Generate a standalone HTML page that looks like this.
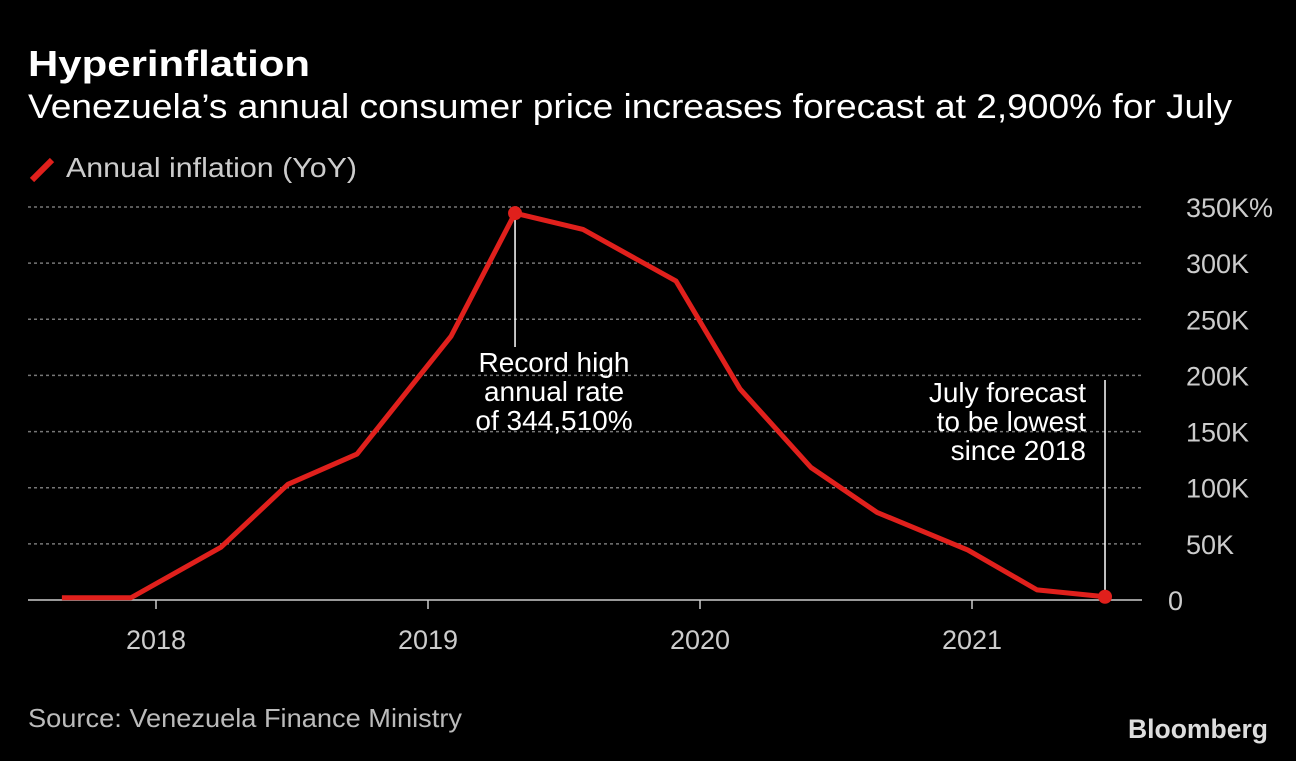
<!DOCTYPE html>
<html><head><meta charset="utf-8"><style>
body{margin:0;background:#000;width:1296px;height:756px;overflow:hidden;font-family:"Liberation Sans",sans-serif;color:#fff}
svg text{font-family:"Liberation Sans",sans-serif}
</style></head><body>
<svg width="1296" height="756">
<text x="28" y="76" font-size="36" font-weight="bold" fill="#fff" textLength="282" lengthAdjust="spacingAndGlyphs">Hyperinflation</text>
<text x="28" y="118" font-size="34" fill="#fff" textLength="1204" lengthAdjust="spacingAndGlyphs">Venezuela’s annual consumer price increases forecast at 2,900% for July</text>
<line x1="32" y1="180" x2="52" y2="160" stroke="#e0201c" stroke-width="6"/>
<text x="66" y="177" font-size="28" fill="#ccc" textLength="291" lengthAdjust="spacingAndGlyphs">Annual inflation (YoY)</text>
<g id="grid"></g><g id="xaxis"></g><g id="plot"></g>
<text x="28" y="727" font-size="26" fill="#bbb" textLength="434" lengthAdjust="spacingAndGlyphs">Source: Venezuela Finance Ministry</text>
<text x="1268" y="738" font-size="27" font-weight="bold" fill="#ddd" text-anchor="end" textLength="140" lengthAdjust="spacingAndGlyphs">Bloomberg</text>
</svg>
<script>
const dates=[2017.654,2017.908,2018.239,2018.485,2018.739,2019.085,2019.32,2019.57,2019.912,2020.147,2020.408,2020.651,2020.985,2021.239,2021.489];
const values=[2,2,47,103,130,235,344.51,330,284,188,118,78,44.5,9,2.9];
const yTicks=[0,50,100,150,200,250,300,350];
const yLabels=["0","50K","100K","150K","200K","250K","300K","350K%"];
const xTicks=[2018,2019,2020,2021];
const NS="http://www.w3.org/2000/svg";
const X=d=>156+(d-2018)*272;
const Y=v=>600-v*(393/350);
function mk(t,a,p){const e=document.createElementNS(NS,t);for(const k in a)e.setAttribute(k,a[k]);p.appendChild(e);return e;}
const grid=document.getElementById('grid'),xa=document.getElementById('xaxis'),plot=document.getElementById('plot');
yTicks.forEach((v,i)=>{
 if(v>0){const l=mk('line',{x1:28,x2:1142,y1:Y(v),y2:Y(v),stroke:'#777','stroke-width':1.5,'stroke-dasharray':'3,3'},grid);
 
 }
 const t=mk('text',{x:v===0?1168:1186,y:Y(v)+10,'font-size':27,fill:'#ccc'},grid);t.textContent=yLabels[i];
 
 
});
const base=mk('line',{x1:28,x2:1142,y1:600,y2:600,stroke:'#ccc','stroke-width':1.5},xa);


xTicks.forEach(y=>{
 mk('line',{x1:X(y),x2:X(y),y1:600,y2:609,stroke:'#ccc','stroke-width':1.5},xa);
 const t=mk('text',{x:X(y),y:649,'font-size':27,fill:'#ccc','text-anchor':'middle'},xa);t.textContent=y;
 
 
});
const pk=6;
const a1=mk('line',{x1:X(dates[pk]),x2:X(dates[pk]),y1:Y(values[pk]),y2:347,stroke:'#fff','stroke-width':1.5},plot);


["Record high","annual rate","of 344,510%"].forEach((s,i)=>{const t=mk('text',{x:554,y:372+i*29,'font-size':28,fill:'#fff','text-anchor':'middle'},plot);t.textContent=s;
 
 });
const L=dates.length-1;
const a2=mk('line',{x1:X(dates[L]),x2:X(dates[L]),y1:Y(values[L]),y2:380,stroke:'#fff','stroke-width':1.5},plot);


["July forecast","to be lowest","since 2018"].forEach((s,i)=>{const t=mk('text',{x:1086,y:402+i*29,'font-size':28,fill:'#fff','text-anchor':'end'},plot);t.textContent=s;
 
 });
const p=mk('polyline',{points:dates.map((d,i)=>X(d)+','+Y(values[i])).join(' '),fill:'none',stroke:'#e0201c','stroke-width':5,'stroke-linejoin':'round'},plot);


[pk,L].forEach(i=>{const c=mk('circle',{cx:X(dates[i]),cy:Y(values[i]),r:7,fill:'#e0201c'},plot);
 
 });
</script>
</body></html>
